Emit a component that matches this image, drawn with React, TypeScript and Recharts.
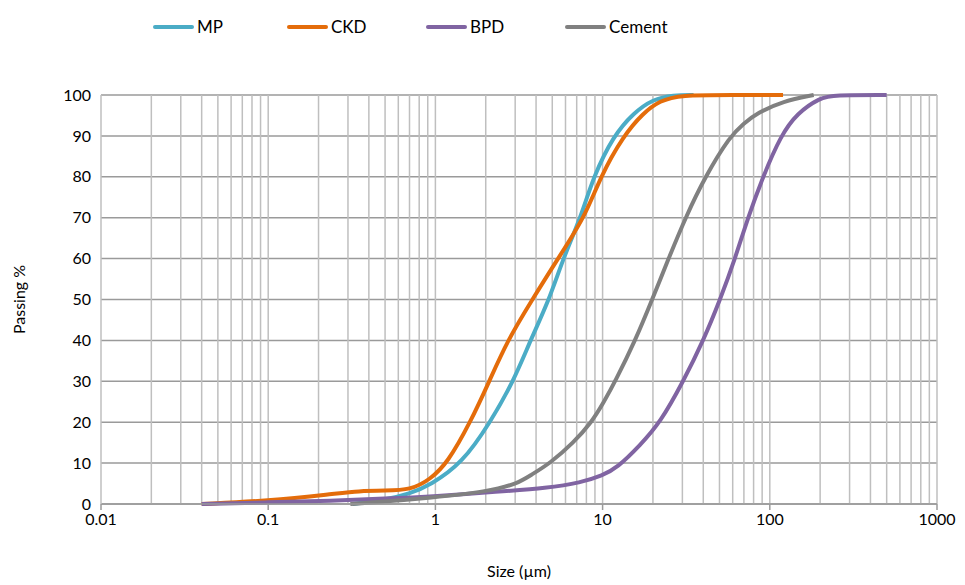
import React from 'react';
import { LineChart, Line, XAxis, YAxis, CartesianGrid, ReferenceLine } from 'recharts';

const xTicks = [0.01, 0.1, 1, 10, 100, 1000];
const yTicks = [0, 10, 20, 30, 40, 50, 60, 70, 80, 90, 100];

// minor log gridlines (1..9 x each decade)
const gridX = [
  0.02, 0.03, 0.04, 0.05, 0.06, 0.07, 0.08, 0.09, 0.1,
  0.2, 0.3, 0.4, 0.5, 0.6, 0.7, 0.8, 0.9, 1,
  2, 3, 4, 5, 6, 7, 8, 9, 10,
  20, 30, 40, 50, 60, 70, 80, 90, 100,
  200, 300, 400, 500, 600, 700, 800, 900, 1000,
];

const mpSize = [0.32, 0.5, 0.7, 0.93, 1.45, 2.13, 2.93, 3.7, 4.8, 5.8, 7.4, 8.8, 11.6, 15.3, 20, 26.5, 35];
const mpPass = [0, 1, 2.5, 4.6, 10, 20, 30, 40, 50, 60, 70, 80, 90, 95.6, 99, 100, 100];

const ckdSize = [0.04, 0.1, 0.24, 0.35, 0.5, 0.71, 0.93, 1.18, 1.62, 2.1, 2.7, 3.8, 5.4, 7.8, 9.7, 13.3, 17.5, 22, 29, 60, 120];
const ckdPass = [0, 0.8, 2.4, 3.2, 3.3, 3.4, 6, 10, 20, 30, 40, 50, 60, 70, 80, 90, 95.6, 98.6, 100, 100, 100];

const bpdSize = [0.04, 0.1, 0.24, 0.5, 1, 2.35, 4.67, 7.4, 10, 12.2, 16.8, 22.2, 30.4, 40.1, 50.5, 62, 74, 91, 116, 146, 200, 240, 500];
const bpdPass = [0, 0.4, 0.8, 1.3, 1.9, 3, 3.9, 5.2, 7, 8.8, 14.4, 20, 30, 40, 50, 60, 70, 80, 90, 95.6, 99.3, 100, 100];

const cementSize = [0.31, 0.47, 0.93, 2.05, 3.1, 3.7, 4.87, 6.7, 8.6, 10.2, 11.9, 15.7, 19.8, 24.8, 31.3, 41, 58, 69.6, 84, 120, 183];
const cementPass = [0, 0.5, 1.5, 3, 5, 7, 10, 15, 20, 25, 30, 40, 50, 60, 70, 80, 90, 93, 95.6, 98.5, 100];

const toPoints = (xs: number[], ys: number[]) => xs.map((x, i) => ({ x, y: ys[i] }));

const series = [
  { name: 'MP', color: '#4BACC6', data: toPoints(mpSize, mpPass) },
  { name: 'CKD', color: '#E46C0A', data: toPoints(ckdSize, ckdPass) },
  { name: 'BPD', color: '#8064A2', data: toPoints(bpdSize, bpdPass) },
  { name: 'Cement', color: '#808080', data: toPoints(cementSize, cementPass) },
];

const legendLeft = [153, 287, 426, 565];
const font = 'Lato, "Open Sans", sans-serif';

export default function App() {
  return (
    <div style={{ position: 'absolute', left: 0, top: 0, width: 965, height: 585, background: '#fff', fontFamily: font }}>
      {series.map((s, i) => (
        <div key={s.name} style={{ position: 'absolute', left: legendLeft[i], top: 16, display: 'flex', alignItems: 'center', fontSize: 17, color: '#000' }}>
          <span style={{ display: 'inline-block', width: 41, height: 4, borderRadius: 2, background: s.color, marginRight: 3 }} />
          <span>{s.name}</span>
        </div>
      ))}
      <LineChart width={965} height={585} margin={{ top: 95, right: 28, bottom: 0, left: 41 }}>
        <CartesianGrid vertical={false} stroke="#9a9a9a" strokeWidth={1.5} />
        {gridX.map((v) => (
          <ReferenceLine key={v} x={v} stroke="#bfbfbf" strokeWidth={1.5} />
        ))}
        <XAxis
          dataKey="x"
          type="number"
          scale="log"
          domain={[0.01, 1000]}
          allowDataOverflow
          ticks={xTicks}
          tickFormatter={(v: number) => String(v)}
          height={81}
          stroke="#9a9a9a"
          strokeWidth={1.5}
          tickSize={6}
          tickMargin={4}
          tick={{ fill: '#000', fontSize: 16, fontFamily: font }}
          label={{ value: 'Size (µm)', position: 'insideBottom', offset: 8, fill: '#000', fontSize: 16, fontFamily: font }}
        />
        <YAxis
          type="number"
          domain={[0, 100]}
          ticks={yTicks}
          width={60}
          axisLine={{ stroke: '#bfbfbf', strokeWidth: 1.5 }}
          tickLine={false}
          tickSize={6}
          tickMargin={4}
          tick={{ fill: '#000', fontSize: 16, fontFamily: font }}
          label={{ value: 'Passing %', angle: -90, position: 'insideLeft', offset: -22, fill: '#000', fontSize: 16, fontFamily: font, style: { textAnchor: 'middle' } }}
        />
        {series.map((s) => (
          <Line
            key={s.name}
            data={s.data}
            dataKey="y"
            name={s.name}
            type="basis"
            stroke={s.color}
            strokeWidth={4}
            dot={false}
            isAnimationActive={false}
          />
        ))}
      </LineChart>
    </div>
  );
}
